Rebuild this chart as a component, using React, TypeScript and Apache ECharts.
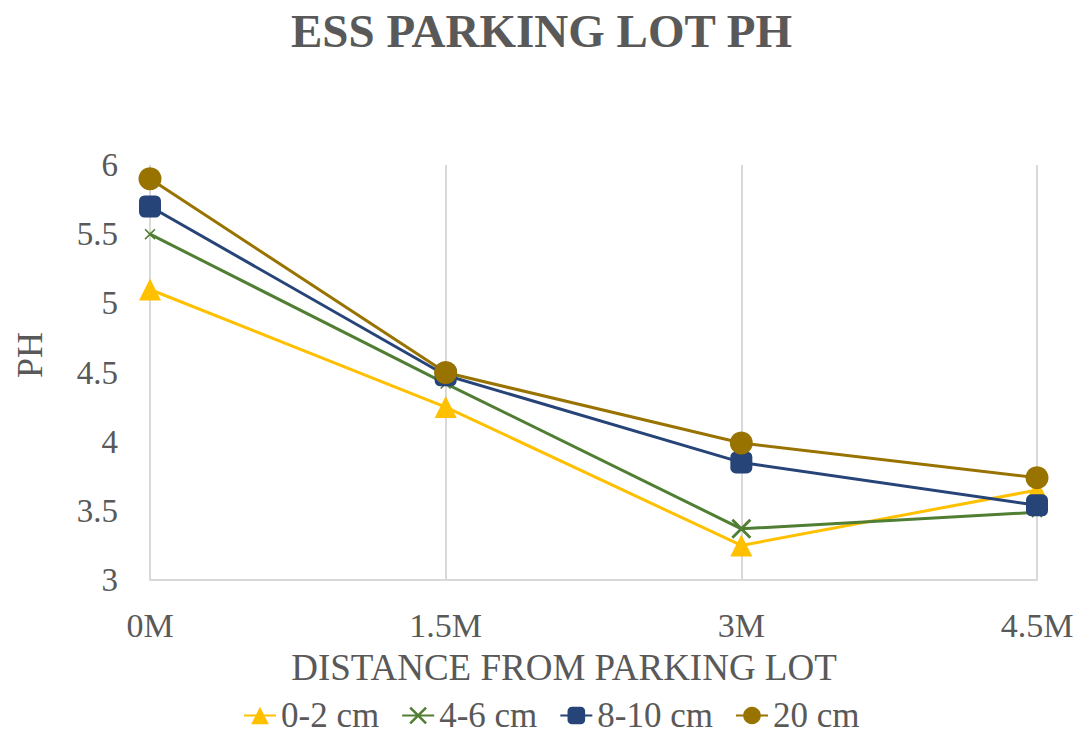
import React, { useEffect, useRef } from "react";
import * as echarts from "echarts";

const categories = ["0M", "1.5M", "3M", "4.5M"];
const seriesNames = ["0-2 cm", "4-6 cm", "8-10 cm", "20 cm"];
const depth0to2 = [5.1, 4.25, 3.25, 3.65];
const depth4to6 = [5.5, 4.42, 3.37, 3.49];
const depth8to10 = [5.7, 4.48, 3.85, 3.54];
const depth20 = [5.9, 4.5, 3.99, 3.74];
const yTicks = { min: 3, max: 6, interval: 0.5 };

const TEXT = "#595959";
const FONT = "Liberation Serif";
const X_PATH =
  "path://M1,0 L5,4 L9,0 L10,1 L6,5 L10,9 L9,10 L5,6 L1,10 L0,9 L4,5 L0,1 Z";

export default function App() {
  const ref = useRef<HTMLDivElement>(null);
  useEffect(() => {
    if (!ref.current) return;
    const chart = echarts.init(ref.current, null, { renderer: "svg" });
    const mk = (
      name: string,
      data: number[],
      color: string,
      symbol: string,
      size: any
    ) => ({
      name,
      type: "line",
      data,
      symbol,
      symbolSize: size,
      showSymbol: true,
      lineStyle: { color, width: 3 },
      itemStyle: { color, borderWidth: 0 },
    });
    chart.setOption({
      animation: false,
      backgroundColor: "#ffffff",
      textStyle: { fontFamily: FONT },
      title: {
        text: "ESS PARKING LOT PH",
        left: "center",
        top: 2,
        textStyle: {
          color: TEXT,
          fontFamily: FONT,
          fontWeight: "bold",
          fontSize: 47,
        },
      },
      grid: { left: 150, right: 46, top: 165, bottom: 158 },
      xAxis: {
        type: "category",
        data: categories,
        boundaryGap: false,
        axisLine: { show: true, lineStyle: { color: "#d9d9d9", width: 2 } },
        axisTick: { show: false },
        splitLine: { show: true, lineStyle: { color: "#d9d9d9", width: 2 } },
        axisLabel: {
          color: TEXT,
          fontFamily: FONT,
          fontSize: 34,
          margin: 28,
        },
      },
      yAxis: {
        type: "value",
        min: yTicks.min,
        max: yTicks.max,
        interval: yTicks.interval,
        axisLine: { show: false },
        axisTick: { show: false },
        splitLine: { show: false },
        axisLabel: {
          color: TEXT,
          fontFamily: FONT,
          fontSize: 33,
          margin: 32,
        },
      },
      legend: {
        bottom: 0,
        left: 238,
        itemWidth: 32,
        itemHeight: 22,
        itemGap: 22,
        textStyle: { color: TEXT, fontFamily: FONT, fontSize: 35 },
        data: seriesNames,
      },
      graphic: [
        {
          type: "text",
          x: 564,
          y: 667,
          style: {
            text: "DISTANCE FROM PARKING LOT",
            fill: TEXT,
            fontFamily: FONT,
            fontSize: 37,
            textAlign: "center",
            textVerticalAlign: "middle",
          },
        },
        {
          type: "text",
          x: 30,
          y: 355,
          rotation: Math.PI / 2,
          style: {
            text: "PH",
            fill: TEXT,
            fontFamily: FONT,
            fontSize: 36,
            textAlign: "center",
            textVerticalAlign: "middle",
          },
        },
      ],
      series: [
        mk(seriesNames[0], depth0to2, "#FFC000", "triangle", 22),
        mk(seriesNames[1], depth4to6, "#507E32", X_PATH, (_v: any, p: any) =>
          p && p.dataIndex === 2 ? 20 : 11
        ),
        mk(seriesNames[2], depth8to10, "#264478", "roundRect", 22),
        mk(seriesNames[3], depth20, "#997300", "circle", 23),
      ],
    });
    return () => chart.dispose();
  }, []);
  return (
    <div
      ref={ref}
      style={{ position: "fixed", left: 0, top: 0, width: 1083, height: 738 }}
    />
  );
}
